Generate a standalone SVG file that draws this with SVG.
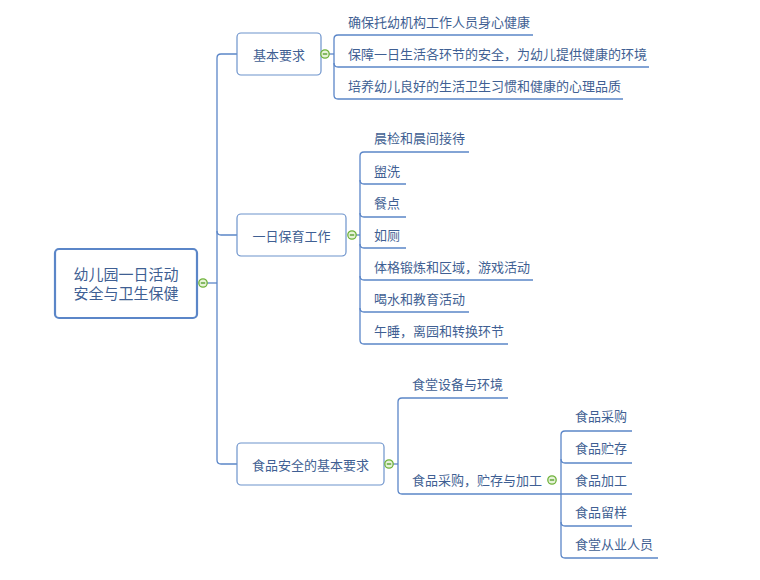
<svg xmlns="http://www.w3.org/2000/svg" width="760" height="580" viewBox="0 0 760 580">
<style>
.ln{fill:none;stroke:#5b86c8;stroke-width:1.3}
.box{fill:#fff;stroke:#6d93cc;stroke-width:1.2}
.root{fill:#fff;stroke:#5b86c8;stroke-width:2.2}
.t{font-family:"Noto Sans CJK SC","Liberation Sans",sans-serif;font-size:13px;fill:#3f5f93;dominant-baseline:central}
.rt{font-family:"Noto Sans CJK SC","Liberation Sans",sans-serif;font-size:15px;fill:#3f5f93;dominant-baseline:central;text-anchor:middle}
.c{fill:#e6f2d8;stroke:#6fb23a;stroke-width:1.3}
.cm{stroke:#4f9a25;stroke-width:1.3}
</style>
<defs>
<g id="col"><circle class="c" r="4.2"/><line class="cm" x1="-2.2" y1="0" x2="2.2" y2="0"/></g>
</defs>
<g id="connectors">
<path class="ln" d="M207,283 H217"/>
<path class="ln" d="M237,54 H221 Q217,54 217,58 V460 Q217,464 221,464 H237"/>
<path class="ln" d="M217,231 Q217,235 221,235 H237"/>
<path class="ln" d="M329,54 H334"/>
<path class="ln" d="M533,35 H338 Q334,35 334,39 V95 Q334,99 338,99 H623"/>
<path class="ln" d="M334,63 Q334,67 338,67 H649"/>
<path class="ln" d="M356,235 H360"/>
<path class="ln" d="M469,152 H364 Q360,152 360,156 V340 Q360,344 364,344 H508"/>
<path class="ln" d="M360,180 Q360,184 364,184 H406"/>
<path class="ln" d="M360,213 Q360,217 364,217 H406"/>
<path class="ln" d="M360,244 Q360,248 364,248 H406"/>
<path class="ln" d="M360,276 Q360,280 364,280 H533"/>
<path class="ln" d="M360,308 Q360,312 364,312 H469"/>
<path class="ln" d="M393,464 H398"/>
<path class="ln" d="M508,398 H402 Q398,398 398,402 V490 Q398,494 402,494 H561"/>
<path class="ln" d="M632,431 H565 Q561,431 561,435 V554 Q561,558 565,558 H658"/>
<path class="ln" d="M561,459 Q561,463 565,463 H632"/>
<path class="ln" d="M561,494 H632"/>
<path class="ln" d="M561,522 Q561,526 565,526 H632"/>
</g>
<g id="root">
<rect class="root" x="55" y="249" width="142" height="69" rx="4"/>
<text class="rt" x="126" y="273">幼儿园一日活动</text>
<text class="rt" x="126" y="292">安全与卫生保健</text>
<use href="#col" x="203" y="283"/>
</g>
<g id="n1">
<rect class="box" x="237" y="33" width="84" height="42" rx="4"/>
<text class="t" x="279" y="54" text-anchor="middle">基本要求</text>
<use href="#col" x="325" y="54"/>
</g>
<g id="n1a"><text class="t" x="348" y="21">确保托幼机构工作人员身心健康</text></g>
<g id="n1b"><text class="t" x="348" y="53">保障一日生活各环节的安全，为幼儿提供健康的环境</text></g>
<g id="n1c"><text class="t" x="348" y="85">培养幼儿良好的生活卫生习惯和健康的心理品质</text></g>
<g id="n2">
<rect class="box" x="237" y="214" width="109" height="42" rx="4"/>
<text class="t" x="291.5" y="235" text-anchor="middle">一日保育工作</text>
<use href="#col" x="352" y="235"/>
</g>
<g id="n2a"><text class="t" x="374" y="137">晨检和晨间接待</text></g>
<g id="n2b"><text class="t" x="374" y="170">盥洗</text></g>
<g id="n2c"><text class="t" x="374" y="202">餐点</text></g>
<g id="n2d"><text class="t" x="374" y="234">如厕</text></g>
<g id="n2e"><text class="t" x="374" y="266">体格锻炼和区域，游戏活动</text></g>
<g id="n2f"><text class="t" x="374" y="298">喝水和教育活动</text></g>
<g id="n2g"><text class="t" x="374" y="330">午睡，离园和转换环节</text></g>
<g id="n3">
<rect class="box" x="237" y="443" width="147" height="42" rx="4"/>
<text class="t" x="310.5" y="464" text-anchor="middle">食品安全的基本要求</text>
<use href="#col" x="389" y="464"/>
</g>
<g id="n3a"><text class="t" x="412" y="383">食堂设备与环境</text></g>
<g id="n3b">
<text class="t" x="412" y="479">食品采购，贮存与加工</text>
<use href="#col" x="552" y="480"/>
</g>
<g id="n3b1"><text class="t" x="575" y="415">食品采购</text></g>
<g id="n3b2"><text class="t" x="575" y="447">食品贮存</text></g>
<g id="n3b3"><text class="t" x="575" y="479">食品加工</text></g>
<g id="n3b4"><text class="t" x="575" y="511">食品留样</text></g>
<g id="n3b5"><text class="t" x="575" y="543">食堂从业人员</text></g>
</svg>
